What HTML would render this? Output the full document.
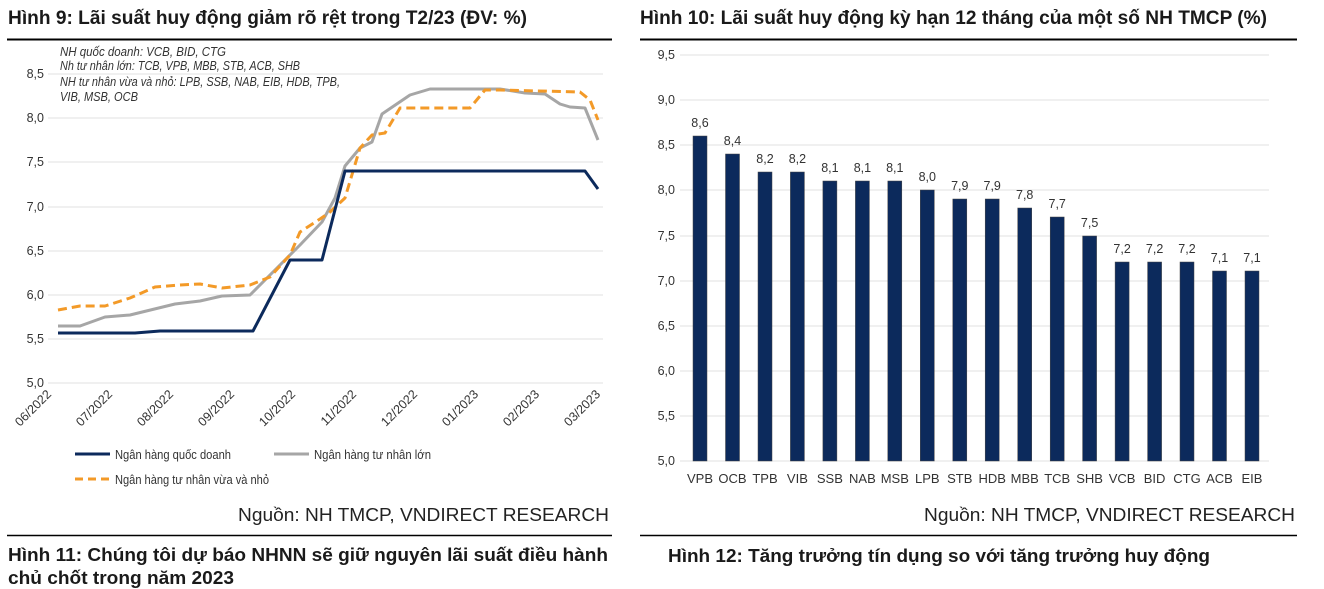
<!DOCTYPE html>
<html><head><meta charset="utf-8"><style>
html,body{margin:0;padding:0;background:#fff;}
svg{display:block;font-family:"Liberation Sans",Arial,sans-serif;}
</style></head><body>
<svg width="1324" height="589" viewBox="0 0 1324 589" xmlns="http://www.w3.org/2000/svg">
<!-- Left titles -->
<text x="8" y="24" font-size="19" font-weight="bold" fill="#1a1a1a" textLength="519" lengthAdjust="spacingAndGlyphs">Hình 9: Lãi suất huy động giảm rõ rệt trong T2/23 (ĐV: %)</text>
<line x1="7" y1="39.5" x2="612" y2="39.5" stroke="#000" stroke-width="2"/>
<g font-size="12.5" font-style="italic" fill="#333">
<text x="60" y="56" textLength="166" lengthAdjust="spacingAndGlyphs">NH quốc doanh: VCB, BID, CTG</text>
<text x="60" y="70" textLength="240" lengthAdjust="spacingAndGlyphs">Nh tư nhân lớn: TCB, VPB, MBB, STB, ACB, SHB</text>
<text x="60" y="86" textLength="280" lengthAdjust="spacingAndGlyphs">NH tư nhân vừa và nhỏ: LPB, SSB, NAB, EIB, HDB, TPB,</text>
<text x="60" y="101" textLength="78" lengthAdjust="spacingAndGlyphs">VIB, MSB, OCB</text>
</g>
<g stroke="#e0e0e0" stroke-width="1">
<line x1="48" y1="74" x2="603" y2="74"/><line x1="48" y1="118" x2="603" y2="118"/>
<line x1="48" y1="162" x2="603" y2="162"/><line x1="48" y1="207" x2="603" y2="207"/>
<line x1="48" y1="251" x2="603" y2="251"/><line x1="48" y1="295" x2="603" y2="295"/>
<line x1="48" y1="339" x2="603" y2="339"/><line x1="48" y1="383" x2="603" y2="383"/>
</g>
<g font-size="12.5" fill="#333" text-anchor="end">
<text x="44" y="78">8,5</text><text x="44" y="122">8,0</text><text x="44" y="166">7,5</text>
<text x="44" y="211">7,0</text><text x="44" y="255">6,5</text><text x="44" y="299">6,0</text>
<text x="44" y="343">5,5</text><text x="44" y="387">5,0</text>
</g>
<g font-size="12.5" fill="#333" text-anchor="end">
<text transform="translate(52,395) rotate(-45)">06/2022</text>
<text transform="translate(113,395) rotate(-45)">07/2022</text>
<text transform="translate(174,395) rotate(-45)">08/2022</text>
<text transform="translate(235,395) rotate(-45)">09/2022</text>
<text transform="translate(296,395) rotate(-45)">10/2022</text>
<text transform="translate(357,395) rotate(-45)">11/2022</text>
<text transform="translate(418,395) rotate(-45)">12/2022</text>
<text transform="translate(479,395) rotate(-45)">01/2023</text>
<text transform="translate(540,395) rotate(-45)">02/2023</text>
<text transform="translate(601,395) rotate(-45)">03/2023</text>
</g>
<polyline fill="none" stroke="#a6a6a6" stroke-width="3" stroke-linejoin="round" points="58,326 80,326 105,317 130,315 175,304 200,301 222,296 250,295 275,270 300,245 322,222 335,198 345,166 360,148 372,142 382,114 410,95 430,89 500,89 525,93 545,94 560,104 570,107 585,108 598,140"/>
<polyline fill="none" stroke="#f39a28" stroke-width="3" stroke-dasharray="9,5" stroke-linejoin="round" points="58,310 80,306 105,306 130,298 155,287 180,285 200,284 222,288 250,285 270,277 290,255 300,232 320,219 330,212 345,198 360,148 372,135 385,133 400,108 470,108 485,90 500,90 580,92 590,100 598,120"/>
<polyline fill="none" stroke="#0c2a5c" stroke-width="3" stroke-linejoin="round" points="58,333 135,333 160,331 253,331 290,260 322,260 345,171 585,171 598,189"/>
<g font-size="13" fill="#333">
<line x1="75" y1="454" x2="110" y2="454" stroke="#0c2a5c" stroke-width="3"/>
<text x="115" y="459" textLength="116" lengthAdjust="spacingAndGlyphs">Ngân hàng quốc doanh</text>
<line x1="274" y1="454" x2="309" y2="454" stroke="#a6a6a6" stroke-width="3"/>
<text x="314" y="459" textLength="117" lengthAdjust="spacingAndGlyphs">Ngân hàng tư nhân lớn</text>
<line x1="75" y1="479" x2="110" y2="479" stroke="#f39a28" stroke-width="3" stroke-dasharray="8,5"/>
<text x="115" y="484" textLength="154" lengthAdjust="spacingAndGlyphs">Ngân hàng tư nhân vừa và nhỏ</text>
</g>
<text x="609" y="521" font-size="18" fill="#222" text-anchor="end" textLength="371" lengthAdjust="spacingAndGlyphs">Nguồn: NH TMCP, VNDIRECT RESEARCH</text>
<line x1="7" y1="535.5" x2="612" y2="535.5" stroke="#000" stroke-width="1.5"/>
<text x="8" y="561" font-size="18" font-weight="bold" fill="#1a1a1a" textLength="600" lengthAdjust="spacingAndGlyphs">Hình 11: Chúng tôi dự báo NHNN sẽ giữ nguyên lãi suất điều hành</text>
<text x="8" y="584" font-size="18" font-weight="bold" fill="#1a1a1a" textLength="226" lengthAdjust="spacingAndGlyphs">chủ chốt trong năm 2023</text>

<!-- Right -->
<text x="640" y="24" font-size="19" font-weight="bold" fill="#1a1a1a" textLength="627" lengthAdjust="spacingAndGlyphs">Hình 10: Lãi suất huy động kỳ hạn 12 tháng của một số NH TMCP (%)</text>
<line x1="640" y1="39.5" x2="1297" y2="39.5" stroke="#000" stroke-width="2"/>
<g stroke="#e0e0e0" stroke-width="1">
<line x1="680" y1="55" x2="1269" y2="55"/><line x1="680" y1="100" x2="1269" y2="100"/>
<line x1="680" y1="145" x2="1269" y2="145"/><line x1="680" y1="190" x2="1269" y2="190"/>
<line x1="680" y1="236" x2="1269" y2="236"/><line x1="680" y1="281" x2="1269" y2="281"/>
<line x1="680" y1="326" x2="1269" y2="326"/><line x1="680" y1="371" x2="1269" y2="371"/>
<line x1="680" y1="416" x2="1269" y2="416"/><line x1="680" y1="461" x2="1269" y2="461"/>
</g>
<g font-size="12.5" fill="#333" text-anchor="end">
<text x="675" y="59">9,5</text><text x="675" y="104">9,0</text><text x="675" y="149">8,5</text>
<text x="675" y="194">8,0</text><text x="675" y="240">7,5</text><text x="675" y="285">7,0</text>
<text x="675" y="330">6,5</text><text x="675" y="375">6,0</text><text x="675" y="420">5,5</text>
<text x="675" y="465">5,0</text>
</g>
<g fill="#0c2a5c" stroke="#444" stroke-width="0.5">
<rect x="693" y="136" width="14" height="325"/>
<rect x="725.5" y="154" width="14" height="307"/>
<rect x="758" y="172" width="14" height="289"/>
<rect x="790.4" y="172" width="14" height="289"/>
<rect x="822.9" y="181" width="14" height="280"/>
<rect x="855.4" y="181" width="14" height="280"/>
<rect x="887.8" y="181" width="14" height="280"/>
<rect x="920.3" y="190" width="14" height="271"/>
<rect x="952.8" y="199" width="14" height="262"/>
<rect x="985.2" y="199" width="14" height="262"/>
<rect x="1017.7" y="208" width="14" height="253"/>
<rect x="1050.2" y="217" width="14" height="244"/>
<rect x="1082.6" y="236" width="14" height="225"/>
<rect x="1115.1" y="262" width="14" height="199"/>
<rect x="1147.6" y="262" width="14" height="199"/>
<rect x="1180" y="262" width="14" height="199"/>
<rect x="1212.5" y="271" width="14" height="190"/>
<rect x="1245" y="271" width="14" height="190"/>
</g>
<g font-size="12.5" fill="#333" text-anchor="middle">
<text x="700" y="127">8,6</text><text x="732.5" y="145">8,4</text><text x="765" y="163">8,2</text>
<text x="797.4" y="163">8,2</text><text x="829.9" y="172">8,1</text><text x="862.4" y="172">8,1</text>
<text x="894.8" y="172">8,1</text><text x="927.3" y="181">8,0</text><text x="959.8" y="190">7,9</text>
<text x="992.2" y="190">7,9</text><text x="1024.7" y="199">7,8</text><text x="1057.2" y="208">7,7</text>
<text x="1089.6" y="227">7,5</text><text x="1122.1" y="253">7,2</text><text x="1154.6" y="253">7,2</text>
<text x="1187" y="253">7,2</text><text x="1219.5" y="262">7,1</text><text x="1252" y="262">7,1</text>
</g>
<g font-size="13" fill="#333" text-anchor="middle">
<text x="700" y="483">VPB</text><text x="732.5" y="483">OCB</text><text x="765" y="483">TPB</text>
<text x="797.4" y="483">VIB</text><text x="829.9" y="483">SSB</text><text x="862.4" y="483">NAB</text>
<text x="894.8" y="483">MSB</text><text x="927.3" y="483">LPB</text><text x="959.8" y="483">STB</text>
<text x="992.2" y="483">HDB</text><text x="1024.7" y="483">MBB</text><text x="1057.2" y="483">TCB</text>
<text x="1089.6" y="483">SHB</text><text x="1122.1" y="483">VCB</text><text x="1154.6" y="483">BID</text>
<text x="1187" y="483">CTG</text><text x="1219.5" y="483">ACB</text><text x="1252" y="483">EIB</text>
</g>
<text x="1295" y="521" font-size="18" fill="#222" text-anchor="end" textLength="371" lengthAdjust="spacingAndGlyphs">Nguồn: NH TMCP, VNDIRECT RESEARCH</text>
<line x1="640" y1="535.5" x2="1297" y2="535.5" stroke="#000" stroke-width="1.5"/>
<text x="668" y="562" font-size="18" font-weight="bold" fill="#1a1a1a" textLength="542" lengthAdjust="spacingAndGlyphs">Hình 12: Tăng trưởng tín dụng so với tăng trưởng huy động</text>
</svg>
</body></html>
